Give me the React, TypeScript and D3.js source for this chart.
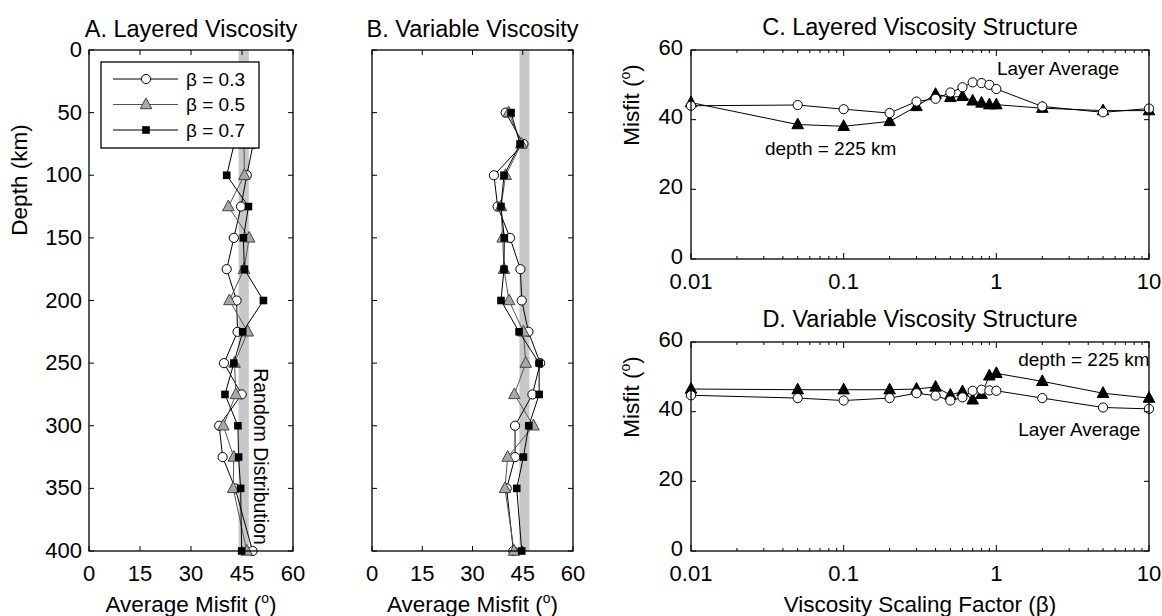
import React from 'react';
import * as d3 from 'd3';

// ---------- data ----------
const depthsA = [50, 75, 100, 125, 150, 175, 200, 225, 250, 275, 300, 325, 350, 400];
const layeredB03 = [45, 48.3, 46.4, 44.7, 42.6, 40.5, 43.4, 43.7, 39.7, 44.9, 38.3, 39.3, 43.0, 48.1];
const layeredB05 = [45, 45.6, 45.7, 41.0, 47.1, 45.6, 41.3, 46.7, 42.8, 43.2, 39.5, 42.6, 42.4, 46.4];
const layeredB07 = [44, 42.7, 40.5, 46.9, 45.4, 45.7, 51.3, 45.2, 42.6, 40.0, 43.8, 44.0, 44.6, 44.9];

const depthsB = [50, 75, 100, 125, 150, 175, 200, 225, 250, 275, 300, 325, 350, 400];
const variableB03 = [39.9, 45.2, 36.4, 37.5, 41.2, 44.3, 44.7, 46.7, 50.2, 47.9, 42.7, 42.7, 40.2, 42.2];
const variableB05 = [40.8, 44.6, 39.9, 38.5, 39.0, 39.4, 40.9, 45.2, 45.9, 42.5, 48.2, 40.5, 39.7, 42.4];
const variableB07 = [41.5, 44.2, 39.4, 38.5, 39.5, 39.4, 38.5, 43.9, 49.9, 49.9, 46.8, 45.2, 43.2, 44.7];

const randomBand = [44, 47];

const betas = [0.01, 0.05, 0.1, 0.2, 0.3, 0.4, 0.5, 0.6, 0.7, 0.8, 0.9, 1, 2, 5, 10];
const layeredAverage = [44.0, 44.2, 43.0, 41.9, 45.2, 46.0, 47.8, 49.3, 50.7, 50.5, 50.0, 48.8, 43.8, 42.1, 43.2];
const layeredDepth225 = [44.9, 38.6, 38.1, 39.5, 43.8, 47.3, 46.4, 46.7, 45.4, 44.8, 44.3, 44.3, 43.3, 42.6, 42.6];
const variableAverage = [44.7, 43.9, 43.2, 43.9, 45.3, 44.6, 43.2, 44.1, 46.0, 46.3, 46.1, 46.0, 43.9, 41.2, 40.8];
const variableDepth225 = [46.5, 46.3, 46.3, 46.3, 46.5, 47.1, 44.8, 45.8, 43.4, 45.0, 50.3, 51.0, 48.7, 45.3, 43.9];

const misfitTicks = [0, 15, 30, 45, 60];
const depthTicks = [0, 50, 100, 150, 200, 250, 300, 350, 400];
const betaMajor = [0.01, 0.1, 1, 10];
const betaLabels = ['0.01', '0.1', '1', '10'];
const misfitYTicks = [0, 20, 40, 60];
const legendLabels = ['β = 0.3', 'β = 0.5', 'β = 0.7'];

// ---------- helpers ----------
const FONT = "'Liberation Sans', Arial, Helvetica, sans-serif";
const TICK = 22;
const TITLE = 23.5;
const LABEL = 22.5;
const NOTE = 19;

type Marker = 'circle' | 'triangle' | 'square';

function triPath(x: number, y: number, s: number) {
  return `M${x},${y - s * 0.62}L${x - s * 0.55},${y + s * 0.4}L${x + s * 0.55},${y + s * 0.4}Z`;
}

function MarkerShape({ kind, x, y, gray }: { kind: Marker; x: number; y: number; gray?: boolean }) {
  if (kind === 'circle') return <circle cx={x} cy={y} r={4.6} fill="#fff" stroke="#000" strokeWidth={1} />;
  if (kind === 'square') return <rect x={x - 3.8} y={y - 3.8} width={7.6} height={7.6} fill="#000" />;
  return <path d={triPath(x, y, 10.5)} fill={gray ? '#a8a8a8' : '#000'} stroke={gray ? '#444' : '#000'} strokeWidth={1} />;
}

function Degree({ size }: { size: number }) {
  return (
    <>
      (<tspan dy={-size * 0.42} fontSize={size * 0.62}>o</tspan>
      <tspan dy={size * 0.42}>)</tspan>
    </>
  );
}

// ---------- depth panels ----------
type DepthSeries = { values: number[]; marker: Marker; color: string; gray?: boolean };

function DepthPanel({ left, right, title, depths, series, yLabels, legend, random }: {
  left: number; right: number; title: string; depths: number[]; series: DepthSeries[];
  yLabels: boolean; legend: boolean; random: boolean;
}) {
  const top = 50, bottom = 551;
  const x = d3.scaleLinear().domain([0, 60]).range([left, right]);
  const y = d3.scaleLinear().domain([0, 400]).range([top, bottom]);
  const cx = (left + right) / 2;
  return (
    <g>
      <rect x={x(randomBand[0])} y={top} width={x(randomBand[1]) - x(randomBand[0])} height={bottom - top} fill="#c8c8c8" />
      {series.map((s, i) => {
        const pts = depths.map((d, j) => [x(s.values[j]), y(d)] as [number, number]);
        const line = d3.line()(pts) as string;
        return (
          <g key={i}>
            <path d={line} fill="none" stroke={s.color} strokeWidth={1} />
            {pts.map((p, j) => <MarkerShape key={j} kind={s.marker} x={p[0]} y={p[1]} gray={s.gray} />)}
          </g>
        );
      })}
      {misfitTicks.map((t) => (
        <g key={'xt' + t}>
          <line x1={x(t)} x2={x(t)} y1={top} y2={top + 5} stroke="#000" />
          <line x1={x(t)} x2={x(t)} y1={bottom} y2={bottom - 5} stroke="#000" />
          <text x={x(t)} y={bottom + 29.5} textAnchor="middle" fontSize={TICK}>{t}</text>
        </g>
      ))}
      {depthTicks.map((t) => (
        <g key={'yt' + t}>
          <line x1={left} x2={left + 5} y1={y(t)} y2={y(t)} stroke="#000" />
          <line x1={right} x2={right - 5} y1={y(t)} y2={y(t)} stroke="#000" />
          {yLabels && <text x={left - 7} y={y(t) + 7} textAnchor="end" fontSize={TICK}>{t}</text>}
        </g>
      ))}
      <rect x={left} y={top} width={right - left} height={bottom - top} fill="none" stroke="#000" strokeWidth={1.3} />
      <text x={cx} y={37} textAnchor="middle" fontSize={TITLE}>{title}</text>
      <text x={cx} y={612} textAnchor="middle" fontSize={LABEL}>Average Misfit <Degree size={LABEL} /></text>
      {random && (
        <text transform={`translate(${x(47) + 12},${y(254)}) rotate(90)`} fontSize={NOTE + 0.5} dominantBaseline="central">Random Distribution</text>
      )}
      {legend && (
        <g>
          <rect x={101} y={62} width={158} height={86} fill="#fff" stroke="#000" strokeWidth={1.3} />
          {series.map((s, i) => {
            const ly = 79 + i * 25.5;
            return (
              <g key={i}>
                <line x1={113} x2={178} y1={ly} y2={ly} stroke={s.color} strokeWidth={1} />
                <MarkerShape kind={s.marker} x={146} y={ly} gray={s.gray} />
                <text x={186} y={ly + 6.5} fontSize={NOTE}>{legendLabels[i]}</text>
              </g>
            );
          })}
        </g>
      )}
    </g>
  );
}

// ---------- beta panels ----------
function BetaPanel({ top, bottom, title, avg, deep, avgLabel, deepLabel, xTitle }: {
  top: number; bottom: number; title: string; avg: number[]; deep: number[];
  avgLabel: [number, number]; deepLabel: [number, number]; xTitle: boolean;
}) {
  const left = 691, right = 1149;
  const x = d3.scaleLog().domain([0.01, 10]).range([left, right]);
  const y = d3.scaleLinear().domain([0, 60]).range([bottom, top]);
  const minor: number[] = [];
  [0.01, 0.1, 1].forEach((d) => { for (let k = 2; k <= 9; k++) minor.push(d * k); });
  const line = d3.line<number>().x((_, i) => x(betas[i])).y((v) => y(v));
  const cx = (left + right) / 2;
  return (
    <g>
      <path d={line(deep) as string} fill="none" stroke="#000" strokeWidth={1} />
      {deep.map((v, i) => <MarkerShape key={'d' + i} kind="triangle" x={x(betas[i])} y={y(v)} />)}
      <path d={line(avg) as string} fill="none" stroke="#000" strokeWidth={1} />
      {avg.map((v, i) => <MarkerShape key={'a' + i} kind="circle" x={x(betas[i])} y={y(v)} />)}
      {minor.map((t) => (
        <g key={'m' + t}>
          <line x1={x(t)} x2={x(t)} y1={top} y2={top + 3} stroke="#000" />
          <line x1={x(t)} x2={x(t)} y1={bottom} y2={bottom - 3} stroke="#000" />
        </g>
      ))}
      {betaMajor.map((t, i) => (
        <g key={'M' + t}>
          <line x1={x(t)} x2={x(t)} y1={top} y2={top + 6} stroke="#000" />
          <line x1={x(t)} x2={x(t)} y1={bottom} y2={bottom - 6} stroke="#000" />
          <text x={x(t)} y={bottom + 29.5} textAnchor="middle" fontSize={TICK}>{betaLabels[i]}</text>
        </g>
      ))}
      {misfitYTicks.map((t) => (
        <g key={'y' + t}>
          <line x1={left} x2={left + 5} y1={y(t)} y2={y(t)} stroke="#000" />
          <line x1={right} x2={right - 5} y1={y(t)} y2={y(t)} stroke="#000" />
          <text x={left - 8} y={y(t) + 4.5} textAnchor="end" fontSize={TICK}>{t}</text>
        </g>
      ))}
      <rect x={left} y={top} width={right - left} height={bottom - top} fill="none" stroke="#000" strokeWidth={1.3} />
      <text x={cx} y={top - 15} textAnchor="middle" fontSize={TITLE}>{title}</text>
      <text transform={`translate(${left - 52},${top + 55}) rotate(-90)`} textAnchor="middle" fontSize={LABEL}>Misfit <Degree size={LABEL} /></text>
      <text x={x(avgLabel[0])} y={y(avgLabel[1])} fontSize={NOTE}>Layer Average</text>
      <text x={x(deepLabel[0])} y={y(deepLabel[1])} fontSize={NOTE}>depth = 225 km</text>
      {xTitle && <text x={cx} y={612} textAnchor="middle" fontSize={LABEL}>Viscosity Scaling Factor (β)</text>}
    </g>
  );
}

export default function App() {
  const seriesA: DepthSeries[] = [
    { values: layeredB03, marker: 'circle', color: '#000' },
    { values: layeredB05, marker: 'triangle', color: '#555', gray: true },
    { values: layeredB07, marker: 'square', color: '#000' },
  ];
  const seriesB: DepthSeries[] = [
    { values: variableB03, marker: 'circle', color: '#000' },
    { values: variableB05, marker: 'triangle', color: '#555', gray: true },
    { values: variableB07, marker: 'square', color: '#000' },
  ];
  return (
    <svg width={1162} height={616} style={{ position: 'absolute', left: 0, top: 0, background: '#fff' }}
      fontFamily={FONT} fill="#000">
      <rect width={1162} height={616} fill="#fff" />
      <text transform="translate(27,180) rotate(-90)" textAnchor="middle" fontSize={LABEL}>Depth (km)</text>
      <DepthPanel left={89} right={293} title="A. Layered Viscosity" depths={depthsA} series={seriesA}
        yLabels legend random />
      <DepthPanel left={372} right={573} title="B. Variable Viscosity" depths={depthsB} series={seriesB}
        yLabels={false} legend={false} random={false} />
      <BetaPanel top={50} bottom={259} title="C. Layered Viscosity Structure" avg={layeredAverage}
        deep={layeredDepth225} avgLabel={[1.01, 52.8]} deepLabel={[0.0305, 30]} xTitle={false} />
      <BetaPanel top={342} bottom={551} title="D. Variable Viscosity Structure" avg={variableAverage}
        deep={variableDepth225} avgLabel={[1.39, 33]} deepLabel={[1.39, 53.1]} xTitle />
    </svg>
  );
}
